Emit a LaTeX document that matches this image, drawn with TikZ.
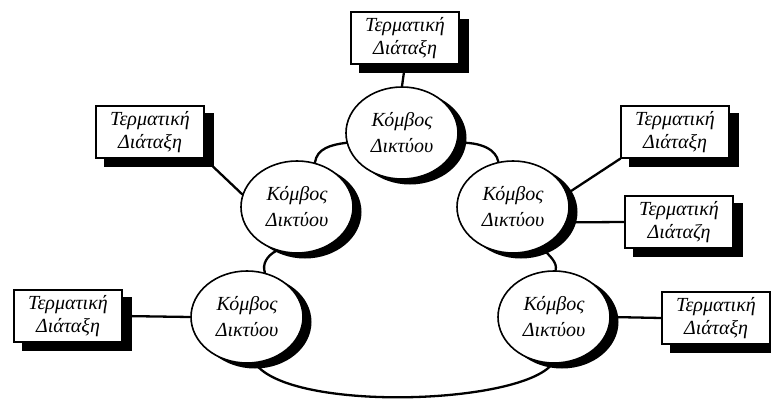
\documentclass[tikz,border=0pt]{standalone}
\usepackage{fontspec}
\setmainfont{Liberation Serif}
\usetikzlibrary{shapes.geometric,backgrounds}

\pgfdeclarelayer{shadowlayer}
\pgfsetlayers{background,shadowlayer,main}

\begin{document}
\begin{tikzpicture}[x=1pt,y=-1pt,
  netnode/.style={ellipse, draw, line width=1.6pt, fill=white,
    minimum width=112pt, minimum height=92pt, inner sep=0pt, align=center,
    font=\fontsize{20}{26}\selectfont\itshape},
  termbox/.style={rectangle, draw, line width=1.3pt, fill=white,
    minimum width=108pt, minimum height=52pt, inner sep=0pt, align=center,
    font=\fontsize{20}{23}\selectfont\itshape},
  link/.style={line width=2.3pt, line cap=round},
  shade/.style={fill=black}]

\clip (0,0) rectangle (771,401);

% network nodes
\node[netnode] (nTop) at (402,133) {Κόμβος\\Δικτύου};
\node[netnode] (nUL)  at (297,207) {Κόμβος\\Δικτύου};
\node[netnode] (nUR)  at (513,207) {Κόμβος\\Δικτύου};
\node[netnode] (nLL)  at (247,317) {Κόμβος\\Δικτύου};
\node[netnode] (nLR)  at (554,317) {Κόμβος\\Δικτύου};

% terminals
\node[termbox] (tTop) at (405,38)  {Τερματική\\Διάταξη};
\node[termbox] (tUL)  at (150,132) {Τερματική\\Διάταξη};
\node[termbox] (tURa) at (675,132) {Τερματική\\Διάταξη};
\node[termbox] (tURb) at (679,222) {Τερματική\\Διάταζη};
\node[termbox] (tLL)  at (68,316)  {Τερματική\\Διάταξη};
\node[termbox] (tLR)  at (716,318) {Τερματική\\Διάταξη};

% solid black shadows behind every shape
\begin{pgfonlayer}{shadowlayer}
  \foreach \n in {nTop,nUL,nUR,nLL,nLR}
    \fill[shade] ([shift={(8,5)}]\n.center) ellipse (56.5 and 46.5);
  \foreach \n in {tTop,tUL,tURa,tURb,tLL,tLR}
    \fill[shade] ([shift={(9,8)}]\n.south west) rectangle ([shift={(9,8)}]\n.north east);
\end{pgfonlayer}

\begin{pgfonlayer}{background}
  % terminal links
  \draw[link] (tTop.south) -- (nTop.north);
  \draw[link] (tUL.south east) -- (nUL.167);
  \draw[link] (tURa.south west) -- (nUR.14);
  \draw[link] (nUR.-16) -- (tURb.west);
  \draw[link] (nLL.west) -- (tLL.east);
  \draw[link] (nLR.east) -- (tLR.west);
  % ring between the nodes
  \draw[link] (nUL.68) .. controls +(2,-14) and +(-16,2) .. (nTop.190);
  \draw[link] (nTop.-10) .. controls +(24,-1) and +(-2,-12) .. (nUR.108);
  \draw[link] (nUL.245) .. controls +(-10,5) and +(-3,-8) .. (nLL.68);
  \draw[link] (nUR.-55) .. controls +(8,8) and +(2,-8) .. (nLR.88);
  \draw[link] (nLL.-80) .. controls (290,412) and (520,405) .. (nLR.-92);
\end{pgfonlayer}
\end{tikzpicture}
\end{document}
